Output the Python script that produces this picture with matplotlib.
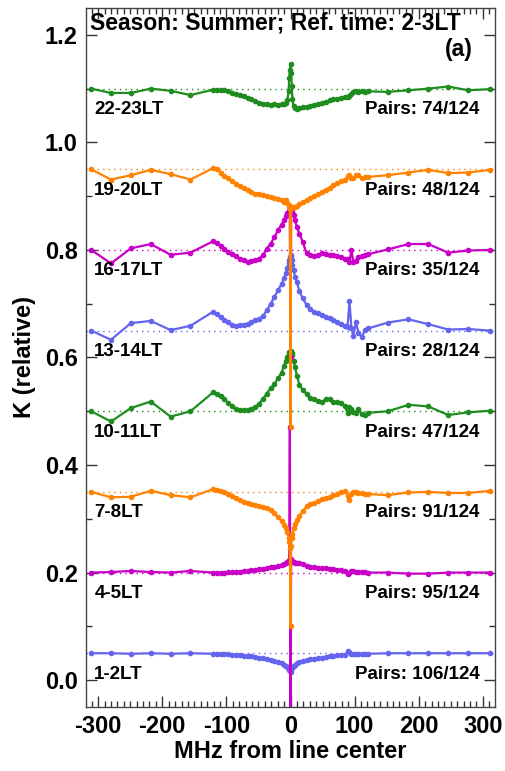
import matplotlib
matplotlib.use("Agg")
import matplotlib.pyplot as plt
from matplotlib.ticker import MultipleLocator

plt.rcParams['font.family'] = ['Liberation Sans', 'DejaVu Sans']
plt.rcParams['font.weight'] = 'bold'
plt.rcParams['axes.unicode_minus'] = False

# Frequency offsets (MHz from line center), shared by all series
freq = [-311, -280, -249, -218, -187, -156,
        -121, -115, -109, -103, -97, -91, -85, -79, -73, -67, -61, -55, -49, -43, -37, -31, -25, -19, -14,
        -10, -7, -5, -3, -2, -1, 0, 1, 2, 3, 5, 7, 10,
        14, 19, 25, 31, 37, 43, 49, 55, 61, 67, 73, 79, 85, 89, 92, 95, 98, 102, 106, 111, 116, 121,
        152, 184, 215, 246, 277, 311]

labels = ['1-2LT', '4-5LT', '7-8LT', '10-11LT', '13-14LT', '16-17LT', '19-20LT', '22-23LT']
pairs = ['Pairs: 106/124', 'Pairs: 95/124', 'Pairs: 91/124', 'Pairs: 47/124',
         'Pairs: 28/124', 'Pairs: 35/124', 'Pairs: 48/124', 'Pairs: 74/124']
offsets = [0.05, 0.20, 0.35, 0.50, 0.65, 0.80, 0.95, 1.10]
colors = ['#6464ee', '#c800c8', '#ff8200', '#1e8c1e', '#6464ee', '#c800c8', '#ff8200', '#1e8c1e']

# Relative K (deviation from each series' reference level)
k_01_02 = [0.000, 0.000, -0.001, 0.000, -0.001, 0.000,
           -0.001, -0.001, -0.001, -0.002, -0.002, -0.003, -0.003, -0.004, -0.005, -0.005, -0.006, -0.007, -0.008, -0.009, -0.011, -0.012, -0.014, -0.017, -0.019,
           -0.021, -0.024, -0.026, -0.029, -0.031, -0.033, -0.035, -0.032, -0.028, -0.025, -0.023, -0.021, -0.019,
           -0.017, -0.015, -0.013, -0.011, -0.010, -0.009, -0.008, -0.007, -0.006, -0.005, -0.004, -0.004, -0.004, 0.004, 0.002, -0.002, -0.002, -0.002, -0.002, -0.001, -0.001, -0.001,
           0.000, 0.000, 0.000, 0.000, 0.000, 0.000]
k_04_05 = [0.000, 0.001, 0.003, 0.001, 0.000, 0.003,
           0.000, 0.000, 0.000, 0.000, 0.001, 0.001, 0.002, 0.002, 0.003, 0.003, 0.004, 0.005, 0.006, 0.007, 0.008, 0.010, 0.011, 0.013, 0.014,
           0.016, 0.018, 0.020, 0.022, 0.024, 0.270, -0.300, 0.026, 0.022, 0.020, 0.019, 0.018, 0.018,
           0.017, 0.016, 0.013, 0.011, 0.010, 0.009, 0.008, 0.008, 0.007, 0.006, 0.005, 0.004, 0.003, -0.002, 0.000, 0.003, 0.003, 0.002, 0.001, 0.002, 0.001, 0.000,
           0.000, -0.002, -0.002, 0.000, 0.000, 0.000]
k_07_08 = [0.000, -0.010, -0.009, 0.002, -0.006, -0.010,
           0.005, 0.004, 0.002, 0.000, -0.004, -0.008, -0.012, -0.015, -0.018, -0.021, -0.023, -0.025, -0.027, -0.028, -0.030, -0.034, -0.040, -0.047, -0.054,
           -0.061, -0.067, -0.074, -0.085, -0.094, -0.105, -0.250, -0.100, -0.085, -0.078, -0.068, -0.060, -0.052,
           -0.044, -0.036, -0.027, -0.023, -0.020, -0.017, -0.014, -0.012, -0.009, -0.006, -0.003, 0.000, 0.002, -0.008, -0.015, -0.003, -0.001, -0.001, -0.002, -0.002, -0.003, -0.004,
           -0.006, -0.001, 0.000, -0.002, -0.002, 0.002]
k_10_11 = [0.000, -0.019, 0.006, 0.018, -0.010, 0.000,
           0.035, 0.032, 0.028, 0.023, 0.015, 0.009, 0.005, 0.003, 0.002, 0.003, 0.005, 0.008, 0.014, 0.023, 0.033, 0.043, 0.051, 0.062, 0.072,
           0.085, 0.094, 0.101, 0.108, 0.110, 0.111, 0.112, 0.110, 0.108, 0.104, 0.093, 0.082, 0.066,
           0.049, 0.040, 0.032, 0.025, 0.022, 0.019, 0.018, 0.022, 0.023, 0.018, 0.017, 0.015, 0.010, -0.004, 0.008, 0.004, -0.002, -0.004, 0.004, -0.005, -0.007, -0.003,
           0.000, 0.012, 0.009, -0.007, -0.002, 0.001]
k_13_14 = [0.000, -0.017, 0.014, 0.018, 0.001, 0.009,
           0.035, 0.030, 0.025, 0.020, 0.016, 0.011, 0.009, 0.010, 0.011, 0.013, 0.016, 0.019, 0.022, 0.027, 0.038, 0.050, 0.063, 0.076, 0.087,
           0.098, 0.108, 0.116, 0.125, 0.132, 0.137, 0.140, 0.138, 0.132, 0.122, 0.112, 0.100, 0.090,
           0.073, 0.060, 0.048, 0.040, 0.035, 0.032, 0.029, 0.026, 0.023, 0.019, 0.016, 0.012, 0.008, 0.007, 0.055, 0.005, -0.010, 0.016, -0.004, -0.012, 0.001, 0.004,
           0.015, 0.021, 0.012, 0.002, 0.003, 0.000]
k_16_17 = [0.000, -0.025, 0.003, 0.011, -0.009, -0.005,
           0.016, 0.013, 0.008, 0.002, -0.003, -0.008, -0.012, -0.016, -0.019, -0.022, -0.021, -0.019, -0.016, -0.010, 0.002, 0.012, 0.024, 0.038, 0.047,
           0.056, 0.063, 0.068, 0.071, 0.073, 0.074, -0.200, 0.074, 0.072, 0.068, 0.065, 0.055, 0.043,
           0.030, 0.015, -0.006, -0.010, -0.011, -0.009, -0.006, -0.007, -0.009, -0.010, -0.011, -0.014, -0.016, -0.017, -0.022, 0.000, -0.022, -0.020, -0.014, -0.012, -0.010, -0.008,
           0.001, 0.011, 0.011, -0.005, -0.001, 0.000]
k_19_20 = [0.000, -0.019, -0.011, -0.001, -0.009, -0.019,
           0.002, 0.000, -0.006, -0.012, -0.017, -0.022, -0.027, -0.031, -0.035, -0.039, -0.043, -0.045, -0.046, -0.047, -0.049, -0.051, -0.054, -0.056, -0.057,
           -0.060, -0.058, -0.062, -0.066, -0.070, -0.073, -0.480, -0.072, -0.070, -0.072, -0.071, -0.070, -0.068,
           -0.064, -0.061, -0.057, -0.053, -0.050, -0.046, -0.042, -0.038, -0.034, -0.029, -0.026, -0.022, -0.019, -0.013, -0.011, -0.016, -0.017, -0.011, -0.011, -0.017, -0.015, -0.014,
           -0.011, -0.006, -0.001, -0.007, -0.006, -0.001]
k_22_23 = [0.000, -0.008, -0.008, 0.000, -0.004, -0.012,
           -0.002, -0.002, -0.003, -0.003, -0.005, -0.008, -0.010, -0.012, -0.014, -0.017, -0.020, -0.023, -0.026, -0.028, -0.029, -0.030, -0.029, -0.030, -0.029,
           -0.028, -0.027, -0.022, -0.005, 0.020, 0.035, 0.046, 0.030, 0.005, -0.020, -0.033, -0.036, -0.037,
           -0.036, -0.035, -0.034, -0.032, -0.030, -0.028, -0.026, -0.024, -0.022, -0.020, -0.019, -0.017, -0.015, -0.016, -0.013, -0.010, -0.006, -0.004, -0.006, -0.005, -0.006, -0.005,
           -0.006, -0.003, 0.000, 0.004, -0.003, -0.001]

series = [k_01_02, k_04_05, k_07_08, k_10_11, k_13_14, k_16_17, k_19_20, k_22_23]

fig = plt.figure(figsize=(5.05, 7.71), dpi=100)
ax = fig.add_axes([86 / 505, 1 - 707 / 771, 409 / 505, 699 / 771])

for lab, pr, off, col, vals in zip(labels, pairs, offsets, colors, series):
    ax.axhline(off, color=col, lw=1.0, ls=(0, (1, 3)), zorder=1)
    ax.plot(freq, [off + v for v in vals], color=col, lw=1.6, marker='o', ms=3.0,
            mec=col, mfc=col, zorder=2)
    ax.text(-306, off - 0.039, lab, fontsize=13.5, fontweight='bold', ha='left', va='center')
    ax.text(295, off - 0.039, pr, fontsize=13.5, fontweight='bold', ha='right', va='center')

ax.text(-312, 1.222, 'Season: Summer; Ref. time: 2-3LT', fontsize=16.5, fontweight='bold',
        ha='left', va='center')
ax.text(284, 1.172, '(a)', fontsize=16.5, fontweight='bold', ha='right', va='center')

ax.set_xlim(-319, 319)
ax.set_ylim(-0.05, 1.25)
ax.xaxis.set_major_locator(MultipleLocator(100))
ax.xaxis.set_minor_locator(MultipleLocator(10))
ax.yaxis.set_major_locator(MultipleLocator(0.2))
ax.yaxis.set_minor_locator(MultipleLocator(0.1))
ax.yaxis.set_major_formatter(matplotlib.ticker.FormatStrFormatter('%.1f'))
ax.tick_params(which='both', direction='in', top=True, right=True, labelsize=17, width=1.0,
               color='#333333', pad=6)
ax.tick_params(which='major', length=8)
ax.tick_params(which='minor', length=4)
for lab in ax.get_xticklabels() + ax.get_yticklabels():
    lab.set_fontweight('bold')
for sp in ax.spines.values():
    sp.set_color('#444444')
    sp.set_linewidth(1.0)

ax.set_xlabel('MHz from line center', fontsize=17, fontweight='bold', labelpad=1)
ax.set_ylabel('K (relative)', fontsize=17, fontweight='bold', labelpad=6)

fig.savefig('out.png', dpi=100)
